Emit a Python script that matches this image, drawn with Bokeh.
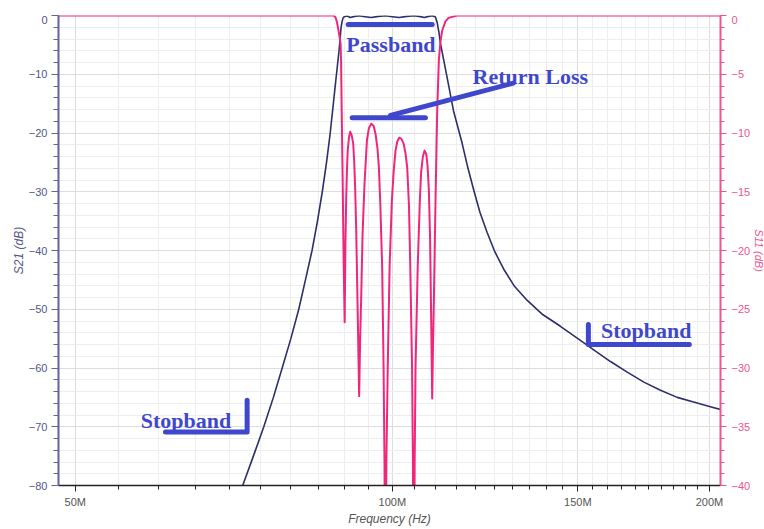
from bokeh.plotting import figure
from bokeh.models import Range1d, LinearAxis, FixedTicker, SingleIntervalTicker, CustomJSTickFormatter, Spacer
from bokeh.layouts import column, row
from bokeh.core.properties import value
from bokeh.embed import file_html
from bokeh.resources import INLINE

# ---- data (frequency in MHz, levels in dB) ----
freq_s21 = [70.0, 72.1, 73.8, 75.5, 77.1, 78.6, 80.1, 81.5, 82.7, 83.9, 84.9, 85.8, 86.6,
            87.3, 87.9, 88.5, 89.0, 89.2, 89.4, 89.6, 89.8, 90.0,
            90.6, 91.2, 92.1, 93.0, 94.2, 95.5, 97.0, 98.5, 100.0, 101.5, 103.2, 104.8,
            106.0, 107.3, 108.2, 109.1, 109.6, 109.9, 110.3, 110.7, 111.1, 112.7, 114.3,
            116.5, 117.9, 119.5, 121.1, 123.0, 125.1, 127.5, 130.6, 134.3, 138.9, 144.4,
            149.8, 155.3, 161.1, 167.1, 173.3, 179.7, 186.4, 193.2, 200.4, 205.3]
s21_db = [-84, -80, -75, -70, -65, -60, -55, -50, -45, -40, -35, -30, -25,
          -20, -15, -10, -6, -4, -2, -1, -0.4, -0.2,
          -0.1, -0.35, -0.15, -0.05, -0.2, -0.35, -0.15, -0.05, -0.2, -0.35, -0.15, -0.05,
          -0.15, -0.35, -0.15, -0.05, -0.15, -0.3, -1.2, -2.8, -4.8, -10.5, -16.2,
          -21.8, -25.8, -29.8, -33.5, -36.9, -40.2, -43.1, -46.1, -48.5, -50.9, -52.9,
          -54.9, -56.9, -58.9, -60.7, -62.4, -63.8, -65.0, -65.8, -66.6, -67.1]

freq_s11 = [48.2, 88.0, 88.3, 88.5, 88.7, 88.9, 89.1, 89.3, 89.4, 89.5, 89.7, 89.9, 90.1,
            90.25, 90.4, 90.55, 90.7, 90.95, 91.2, 91.5, 91.8, 92.0, 92.2, 92.4, 92.6, 92.8, 93.0,
            93.2, 93.4, 93.7, 94.1, 94.6, 95.0, 95.5, 96.0, 96.4, 96.8, 97.1, 97.4, 97.8, 98.1, 98.3, 98.5,
            98.7, 99.0, 99.4, 99.9, 100.3, 100.7, 101.1, 101.5, 102.0, 102.5, 102.9, 103.3, 103.7,
            104.0, 104.4, 104.6, 104.8,
            105.0, 105.2, 105.7, 106.2, 106.5, 106.9, 107.3, 107.7, 108.0, 108.3, 108.6, 108.8, 109.1,
            109.3, 109.5, 109.9, 110.3, 110.7, 111.1, 111.5, 112.3, 113.1, 115.2, 205.0]
s11_db = [0, 0, -0.15, -0.4, -0.8, -1.3, -1.8, -2.4, -4.0, -7.5, -13.8, -20.9, -26.1,
          -19.5, -15.7, -13.2, -11.5, -10.4, -9.9, -10.2, -10.9, -12.4, -14.8, -18.2, -22.8, -27.5, -32.4,
          -27.5, -24.3, -18.6, -14.3, -10.6, -9.6, -9.2, -9.4, -10.1, -11.3, -12.9, -16.0, -21.4, -29.9, -38, -55,
          -38, -29.9, -21.4, -15.7, -13.2, -11.5, -10.7, -10.4, -10.5, -10.9, -11.7, -12.9, -16.2,
          -21.4, -29.9, -38, -55,
          -38, -29.9, -21.4, -15.7, -13.3, -12.0, -11.5, -11.8, -12.8, -14.8, -19.0, -24.3, -32.6,
          -28.0, -24.3, -15.7, -8.1, -3.8, -2.2, -1.3, -0.5, -0.2, 0, 0]

x_major_ticks = [50, 100, 150, 200]
x_minor_ticks = [55, 60, 65, 70, 75, 80, 85, 90, 95, 105, 110, 115, 120, 125, 130, 135,
                 140, 145, 155, 160, 165, 170, 175, 180, 185, 190, 195]

# annotation text and marker strokes (data coordinates: MHz, S21 dB)
label_texts = ["Passband", "Return Loss", "Stopband", "Stopband"]
label_x = [99.7, 135.2, 174.2, 63.7]
label_y = [-4.9, -10.3, -53.7, -69.0]

passband_bar_x = [90.8, 109.1]
passband_bar_y = [-1.53, -1.53]
rl_bar_x = [91.6, 107.5]
rl_bar_y = [-17.4, -17.4]
rl_arrow_x = [99.6, 130.3]
rl_arrow_y = [-17.0, -11.5]
stop_r_x = [153.5, 153.5, 191.4]
stop_r_y = [-52.6, -56.0, -56.0]
stop_l_x = [60.9, 72.8, 72.8]
stop_l_y = [-70.9, -70.9, -65.5]

NAVY = "#2e2e6b"
PINK = "#f0267c"
BLUE = "#3f48cc"
LEFT_AX = "#62629e"
RIGHT_AX = "#ec5590"

p = figure(frame_width=662, frame_height=470, x_axis_type="log",
           x_range=Range1d(48.2, 204.9), y_range=Range1d(-80, 0),
           output_backend="svg", toolbar_location=None,
           min_border_left=0, min_border_right=0, min_border_top=0, min_border_bottom=0,
           x_axis_label="Frequency (Hz)", y_axis_label="S21 (dB)")
p.outline_line_color = None
p.background_fill_color = "white"
p.border_fill_color = "white"
p.extra_y_ranges = {"s11": Range1d(-40, 0)}

# x axis
xa = p.xaxis[0]
xa.ticker = FixedTicker(ticks=x_major_ticks, minor_ticks=x_minor_ticks)
xa.formatter = CustomJSTickFormatter(code="return tick + 'M'")
xa.axis_line_color = "#222222"
xa.axis_line_width = 1.5
xa.major_tick_line_color = "#222222"
xa.minor_tick_line_color = "#222222"
xa.major_tick_in = 0
xa.major_tick_out = 6
xa.minor_tick_in = 0
xa.minor_tick_out = 4
xa.major_label_standoff = 4
xa.axis_label_standoff = 1
xa.major_label_text_font = "Liberation Sans"
xa.major_label_text_font_size = "11px"
xa.major_label_text_color = "#555555"
xa.axis_label_text_font = "Liberation Sans"
xa.axis_label_text_font_size = "12px"
xa.axis_label_text_font_style = "italic"
xa.axis_label_text_color = "#555555"

# left axis
ya = p.yaxis[0]
ya.ticker = SingleIntervalTicker(interval=10, num_minor_ticks=5)
ya.axis_line_color = LEFT_AX
ya.axis_line_width = 2
ya.major_tick_line_color = LEFT_AX
ya.minor_tick_line_color = LEFT_AX
ya.major_tick_in = 0
ya.major_tick_out = 7
ya.minor_tick_in = 0
ya.minor_tick_out = 5
ya.major_label_standoff = 4
ya.axis_label_standoff = 0
ya.major_label_text_font = "Liberation Sans"
ya.major_label_text_font_size = "11px"
ya.major_label_text_color = "#55558a"
ya.axis_label_text_font = "Liberation Sans"
ya.axis_label_text_font_size = "12px"
ya.axis_label_text_font_style = "italic"
ya.axis_label_text_color = "#55558a"

# right axis
ra = LinearAxis(y_range_name="s11", axis_label="S11 (dB)",
                ticker=SingleIntervalTicker(interval=5, num_minor_ticks=5))
ra.axis_line_color = RIGHT_AX
ra.axis_line_width = 2
ra.major_tick_line_color = RIGHT_AX
ra.minor_tick_line_color = RIGHT_AX
ra.major_tick_in = 0
ra.major_tick_out = 6
ra.minor_tick_in = 0
ra.minor_tick_out = 4
ra.major_label_standoff = 5
ra.axis_label_standoff = 0
ra.major_label_text_font = "Liberation Sans"
ra.major_label_text_font_size = "11px"
ra.major_label_text_color = RIGHT_AX
ra.axis_label_text_font = "Liberation Sans"
ra.axis_label_text_font_size = "11px"
ra.axis_label_text_font_style = "italic"
ra.axis_label_text_color = RIGHT_AX
p.add_layout(ra, "right")

# grids
p.xgrid.grid_line_color = "#dddddd"
p.xgrid.minor_grid_line_color = "#eeeeee"
p.ygrid.grid_line_color = "#dddddd"
p.ygrid.minor_grid_line_color = "#eeeeee"

# curves
p.line(freq_s21, s21_db, line_color=NAVY, line_width=1.6, line_join="round")
p.line(freq_s11, s11_db, y_range_name="s11", line_color=PINK, line_width=2, line_join="round")

# annotations
for xs, ys in [(passband_bar_x, passband_bar_y), (rl_bar_x, rl_bar_y), (rl_arrow_x, rl_arrow_y),
               (stop_r_x, stop_r_y), (stop_l_x, stop_l_y)]:
    p.line(xs, ys, line_color=BLUE, line_width=5, line_cap="round", line_join="round")

p.text(x=label_x, y=label_y, text=label_texts, text_font=value("Liberation Serif"),
       text_font_style="bold", text_font_size="22px", text_color=BLUE,
       text_align="center", text_baseline="alphabetic")

page = column(Spacer(height=15), row(Spacer(width=8), p, spacing=0), spacing=0)
open("out.html", "w").write(file_html(page, INLINE))
